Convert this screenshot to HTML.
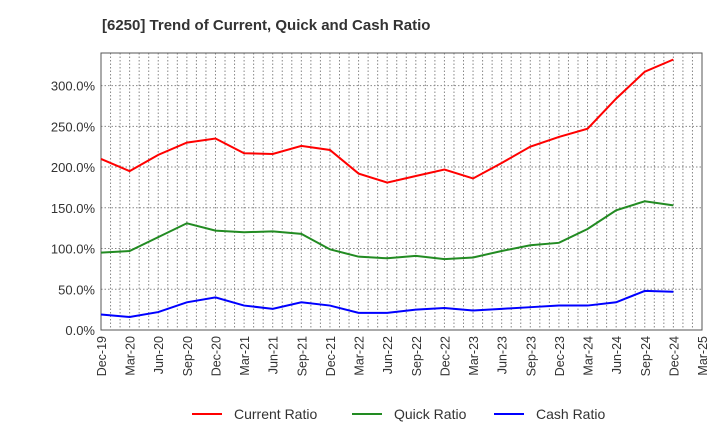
<!DOCTYPE html>
<html><head><meta charset="utf-8"><style>
body{margin:0;background:#fff;font-family:"Liberation Sans",sans-serif}
</style></head><body>
<svg id="c" width="720" height="440" xmlns="http://www.w3.org/2000/svg">
<text x="102" y="30" font-size="15" font-weight="bold" fill="#333">[6250]  Trend of Current, Quick and Cash Ratio</text>
<g id="grid"></g><g id="axes"></g><g id="series"></g>
<g font-size="14" fill="#333">
<line x1="192" y1="414" x2="222" y2="414" stroke="#f00" stroke-width="2"/>
<text x="234" y="419">Current Ratio</text>
<line x1="352" y1="414" x2="382" y2="414" stroke="#228b22" stroke-width="2"/>
<text x="394" y="419">Quick Ratio</text>
<line x1="494" y1="414" x2="524" y2="414" stroke="#00f" stroke-width="2"/>
<text x="536" y="419">Cash Ratio</text>
</g>
</svg>
<script>
const categories=["Dec-19","Mar-20","Jun-20","Sep-20","Dec-20","Mar-21","Jun-21","Sep-21","Dec-21","Mar-22","Jun-22","Sep-22","Dec-22","Mar-23","Jun-23","Sep-23","Dec-23","Mar-24","Jun-24","Sep-24","Dec-24","Mar-25"];
const currentRatio=[210,195,215,230,235,217,216,226,221,192,181,189,197,186,205,225,237,247,284,317,332];
const quickRatio=[95,97,114,131,122,120,121,118,99,90,88,91,87,89,97,104,107,124,147,158,153];
const cashRatio=[19,16,22,34,40,30,26,34,30,21,21,25,27,24,26,28,30,30,34,48,47];
const yTicks=[0,50,100,150,200,250,300];
const L=101,R=702,T=53,B=330,yMax=340;
const x=i=>L+i*(R-L)/(categories.length-1);
const y=v=>B-v*(B-T)/yMax;
const ns="http://www.w3.org/2000/svg";
function mk(p,t,a){const e=document.createElementNS(ns,t);for(const k in a)e.setAttribute(k,a[k]);p.appendChild(e);return e;}
const g=document.getElementById('grid'),ax=document.getElementById('axes'),s=document.getElementById('series');
for(let m=1;m<(categories.length-1)*3;m++){const xx=L+m*(R-L)/((categories.length-1)*3);
const l=mk(g,'line',{x1:xx,x2:xx,y1:T,y2:B,stroke:'#888','stroke-width':1,'stroke-dasharray':'1.5,2'});

}
yTicks.forEach(v=>{if(v>0){const l=mk(g,'line',{x1:L,x2:R,y1:y(v),y2:y(v),stroke:'#888','stroke-width':1,'stroke-dasharray':'1.5,2'});

}
const t=mk(ax,'text',{x:L-6,y:y(v)+5,'text-anchor':'end','font-size':13,fill:'#333'});t.textContent=v.toFixed(1)+'%';

});
const box=mk(ax,'rect',{x:L,y:T,width:R-L,height:B-T,fill:'none',stroke:'#555','stroke-width':1});


categories.forEach((c,i)=>{const t=mk(ax,'text',{transform:`translate(${x(i)+5},${B+6}) rotate(-90)`,'text-anchor':'end','font-size':12.5,fill:'#333'});t.textContent=c;

});
[[currentRatio,'#f00','current-ratio-line'],[quickRatio,'#228b22','quick-ratio-line'],[cashRatio,'#00f','cash-ratio-line']].forEach(([d,c,n])=>{
const p=mk(s,'polyline',{points:d.map((v,i)=>x(i)+','+y(v)).join(' '),fill:'none',stroke:c,'stroke-width':2});

});
</script>
</body></html>
